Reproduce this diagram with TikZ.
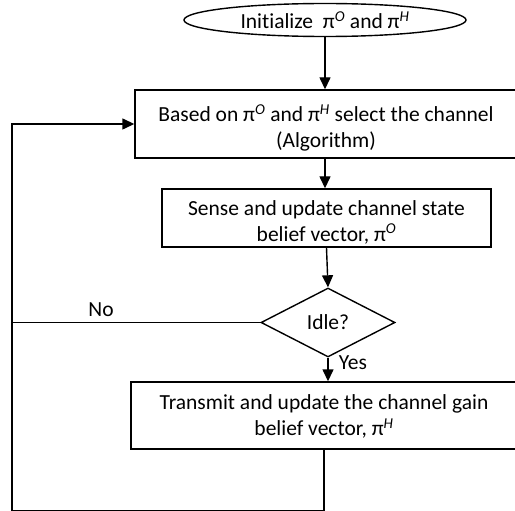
\documentclass[tikz,border=0pt]{standalone}
\usepackage{fontspec}
\setmainfont[Ligatures=NoCommon]{Carlito}
\usetikzlibrary{shapes.geometric,arrows.meta}
\newcommand{\piO}{π\textsuperscript{\textit{O}}}
\newcommand{\piH}{π\textsuperscript{\textit{H}}}
\begin{document}
\begin{tikzpicture}[x=1pt,y=-1pt,
  every node/.style={font=\fontsize{21.5}{26}\selectfont},
  proc/.style={draw,line width=1.4pt,rectangle,inner sep=0pt},
  txt/.style={align=center,inner sep=0pt},
  arr/.style={line width=1.4pt,-{Triangle[length=12pt,width=11pt]}},
  ln/.style={line width=1.4pt}]
\useasboundingbox (0,0) rectangle (515,511);
\clip (0,0) rectangle (515,511);
\node[draw,ellipse,line width=1.4pt,minimum width=282pt,minimum height=33pt,inner sep=0pt] (e) at (325,20) {Initialize \ \piO{} and \piH};
\node[proc,minimum width=382pt,minimum height=68pt] (b1) at (326,124) {};
\node[txt] (b1t) at ([yshift=-4pt]b1.center) {Based on \piO{} and \piH{} select the channel\\(Algorithm)};
\node[proc,minimum width=329pt,minimum height=58pt] (b2) at (326.5,218) {};
\node[txt] (b2t) at ([yshift=-4pt]b2.center) {Sense and update channel state\\belief vector, \piO};
\node[draw,diamond,line width=1.4pt,aspect=1.94,minimum width=134pt,minimum height=69pt,inner sep=0pt] (d) at (328,322.5) {Idle?};
\node[proc,minimum width=386pt,minimum height=67pt] (b3) at (324,415.5) {};
\node[txt] (b3t) at ([yshift=-1pt]b3.center) {Transmit and update the channel gain\\belief vector, \piH};
\coordinate (bl) at (12,511);
\draw[arr] (e.south) -- (e.south |- b1.north);
\draw[arr] (b1.south -| e.south) -- (b2.north -| e.south);
\draw[arr] (b2.south) -- (d.north);
\draw[arr] (d.south) -- (d.south |- b3.north);
\draw[arr] (b3.south) |- (bl) -- (bl |- b1.west) -- (b1.west);
\draw[ln] (d.west) -- (d.west -| bl);
\node (no) at (101,310) {No};
\node (yes) at (353,363) {Yes};
\end{tikzpicture}
\end{document}
